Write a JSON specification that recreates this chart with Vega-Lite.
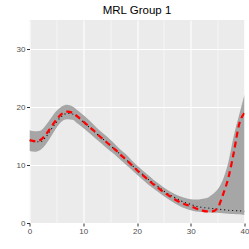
{
  "$schema": "https://vega.github.io/schema/vega-lite/v6.json",
  "autosize": {"type": "none"},
  "padding": {"left": 29.5, "top": 20, "right": 4.5, "bottom": 26},
  "width": 215,
  "height": 203,
  "background": "white",
  "title": {"text": "MRL Group 1", "fontSize": 11.5, "font": "Liberation Sans", "fontWeight": "normal", "color": "black", "anchor": "middle", "frame": "group", "baseline": "bottom", "offset": 5, "dy": 12},
  "config": {
    "view": {"fill": "#EBEBEB", "stroke": null},
    "axis": {"domain": false, "labelFlush": false, "labelFont": "Liberation Sans", "labelFontSize": 8, "labelColor": "#4D4D4D", "tickColor": "#333333", "tickSize": 3, "tickWidth": 1, "gridColor": "white", "labelPadding": 1.5, "title": null}
  },
  "data": {"values": [
    {"x": 0, "tru": 14.2, "est": 14.3, "lo": 12.4, "hi": 16.0},
    {"x": 1, "tru": 14.0, "est": 14.1, "lo": 12.3, "hi": 15.8},
    {"x": 2, "tru": 14.0, "est": 14.3, "lo": 12.6, "hi": 15.9},
    {"x": 3, "tru": 14.8, "est": 15.2, "lo": 13.5, "hi": 16.8},
    {"x": 4, "tru": 16.1, "est": 16.5, "lo": 14.9, "hi": 18.1},
    {"x": 5, "tru": 17.4, "est": 17.8, "lo": 16.4, "hi": 19.3},
    {"x": 6, "tru": 18.4, "est": 18.8, "lo": 17.5, "hi": 20.1},
    {"x": 7, "tru": 18.9, "est": 19.2, "lo": 17.9, "hi": 20.4},
    {"x": 8, "tru": 18.8, "est": 19.0, "lo": 17.8, "hi": 20.1},
    {"x": 9, "tru": 18.2, "est": 18.3, "lo": 17.1, "hi": 19.4},
    {"x": 10, "tru": 17.4, "est": 17.5, "lo": 16.4, "hi": 18.6},
    {"x": 11, "tru": 16.6, "est": 16.7, "lo": 15.6, "hi": 17.8},
    {"x": 12, "tru": 15.8, "est": 15.9, "lo": 14.8, "hi": 16.9},
    {"x": 13, "tru": 15.0, "est": 15.0, "lo": 14.0, "hi": 16.0},
    {"x": 14, "tru": 14.2, "est": 14.2, "lo": 13.2, "hi": 15.2},
    {"x": 15, "tru": 13.4, "est": 13.4, "lo": 12.4, "hi": 14.4},
    {"x": 16, "tru": 12.6, "est": 12.6, "lo": 11.7, "hi": 13.5},
    {"x": 17, "tru": 11.7, "est": 11.7, "lo": 10.8, "hi": 12.6},
    {"x": 18, "tru": 10.9, "est": 10.9, "lo": 10.0, "hi": 11.8},
    {"x": 19, "tru": 10.0, "est": 10.0, "lo": 9.2, "hi": 10.8},
    {"x": 20, "tru": 9.2, "est": 9.1, "lo": 8.3, "hi": 9.9},
    {"x": 21, "tru": 8.4, "est": 8.3, "lo": 7.5, "hi": 9.1},
    {"x": 22, "tru": 7.6, "est": 7.5, "lo": 6.7, "hi": 8.3},
    {"x": 23, "tru": 6.9, "est": 6.7, "lo": 6.0, "hi": 7.5},
    {"x": 24, "tru": 6.2, "est": 6.0, "lo": 5.3, "hi": 6.8},
    {"x": 25, "tru": 5.5, "est": 5.3, "lo": 4.6, "hi": 6.1},
    {"x": 26, "tru": 4.9, "est": 4.7, "lo": 4.0, "hi": 5.5},
    {"x": 27, "tru": 4.4, "est": 4.1, "lo": 3.4, "hi": 5.0},
    {"x": 28, "tru": 3.9, "est": 3.6, "lo": 2.9, "hi": 4.6},
    {"x": 29, "tru": 3.5, "est": 3.2, "lo": 2.5, "hi": 4.3},
    {"x": 30, "tru": 3.2, "est": 2.9, "lo": 2.2, "hi": 4.1},
    {"x": 31, "tru": 2.9, "est": 2.5, "lo": 2.0, "hi": 4.05},
    {"x": 32, "tru": 2.7, "est": 2.2, "lo": 1.9, "hi": 4.15},
    {"x": 33, "tru": 2.6, "est": 2.0, "lo": 1.85, "hi": 4.3},
    {"x": 34, "tru": 2.5, "est": 2.0, "lo": 1.8, "hi": 4.9},
    {"x": 35, "tru": 2.4, "est": 2.6, "lo": 1.75, "hi": 5.8},
    {"x": 36, "tru": 2.3, "est": 4.9, "lo": 1.7, "hi": 7.5},
    {"x": 37, "tru": 2.2, "est": 7.8, "lo": 1.6, "hi": 10.5},
    {"x": 38, "tru": 2.15, "est": 12.1, "lo": 1.55, "hi": 15.0},
    {"x": 39, "tru": 2.1, "est": 17.0, "lo": 1.5, "hi": 18.6},
    {"x": 40, "tru": 2.0, "est": 19.0, "lo": 1.4, "hi": 22.2}
  ]},
  "encoding": {
    "x": {"field": "x", "type": "quantitative", "scale": {"domain": [0, 40], "nice": false, "zero": false},
      "axis": {"values": [0, 5, 10, 15, 20, 25, 30, 35, 40], "labelExpr": "datum.value % 10 === 0 ? datum.label : ''",
        "gridWidth": {"condition": {"test": "datum.value % 10 === 0", "value": 1.1}, "value": 0.55},
        "tickOpacity": {"condition": {"test": "datum.value % 10 === 0", "value": 1}, "value": 0}}}
  },
  "layer": [
    {"mark": {"type": "area", "color": "#A6A6A6", "opacity": 1, "interpolate": "monotone", "clip": true},
     "encoding": {"y": {"field": "lo", "type": "quantitative", "scale": {"domain": [0, 35], "nice": false},
        "axis": {"values": [0, 5, 10, 15, 20, 25, 30, 35], "labelExpr": "datum.value % 10 === 0 ? datum.label : ''",
          "gridWidth": {"condition": {"test": "datum.value % 10 === 0", "value": 1.1}, "value": 0.55},
          "tickOpacity": {"condition": {"test": "datum.value % 10 === 0", "value": 1}, "value": 0}}},
      "y2": {"field": "hi"}}},
    {"mark": {"type": "line", "color": "black", "strokeWidth": 1.1, "strokeDash": [1, 3], "interpolate": "monotone", "clip": true},
     "encoding": {"y": {"field": "tru", "type": "quantitative"}}},
    {"mark": {"type": "line", "color": "#FF0000", "strokeWidth": 2.2, "strokeDash": [6, 4], "interpolate": "monotone", "clip": true},
     "encoding": {"y": {"field": "est", "type": "quantitative"}}}
  ]
}
